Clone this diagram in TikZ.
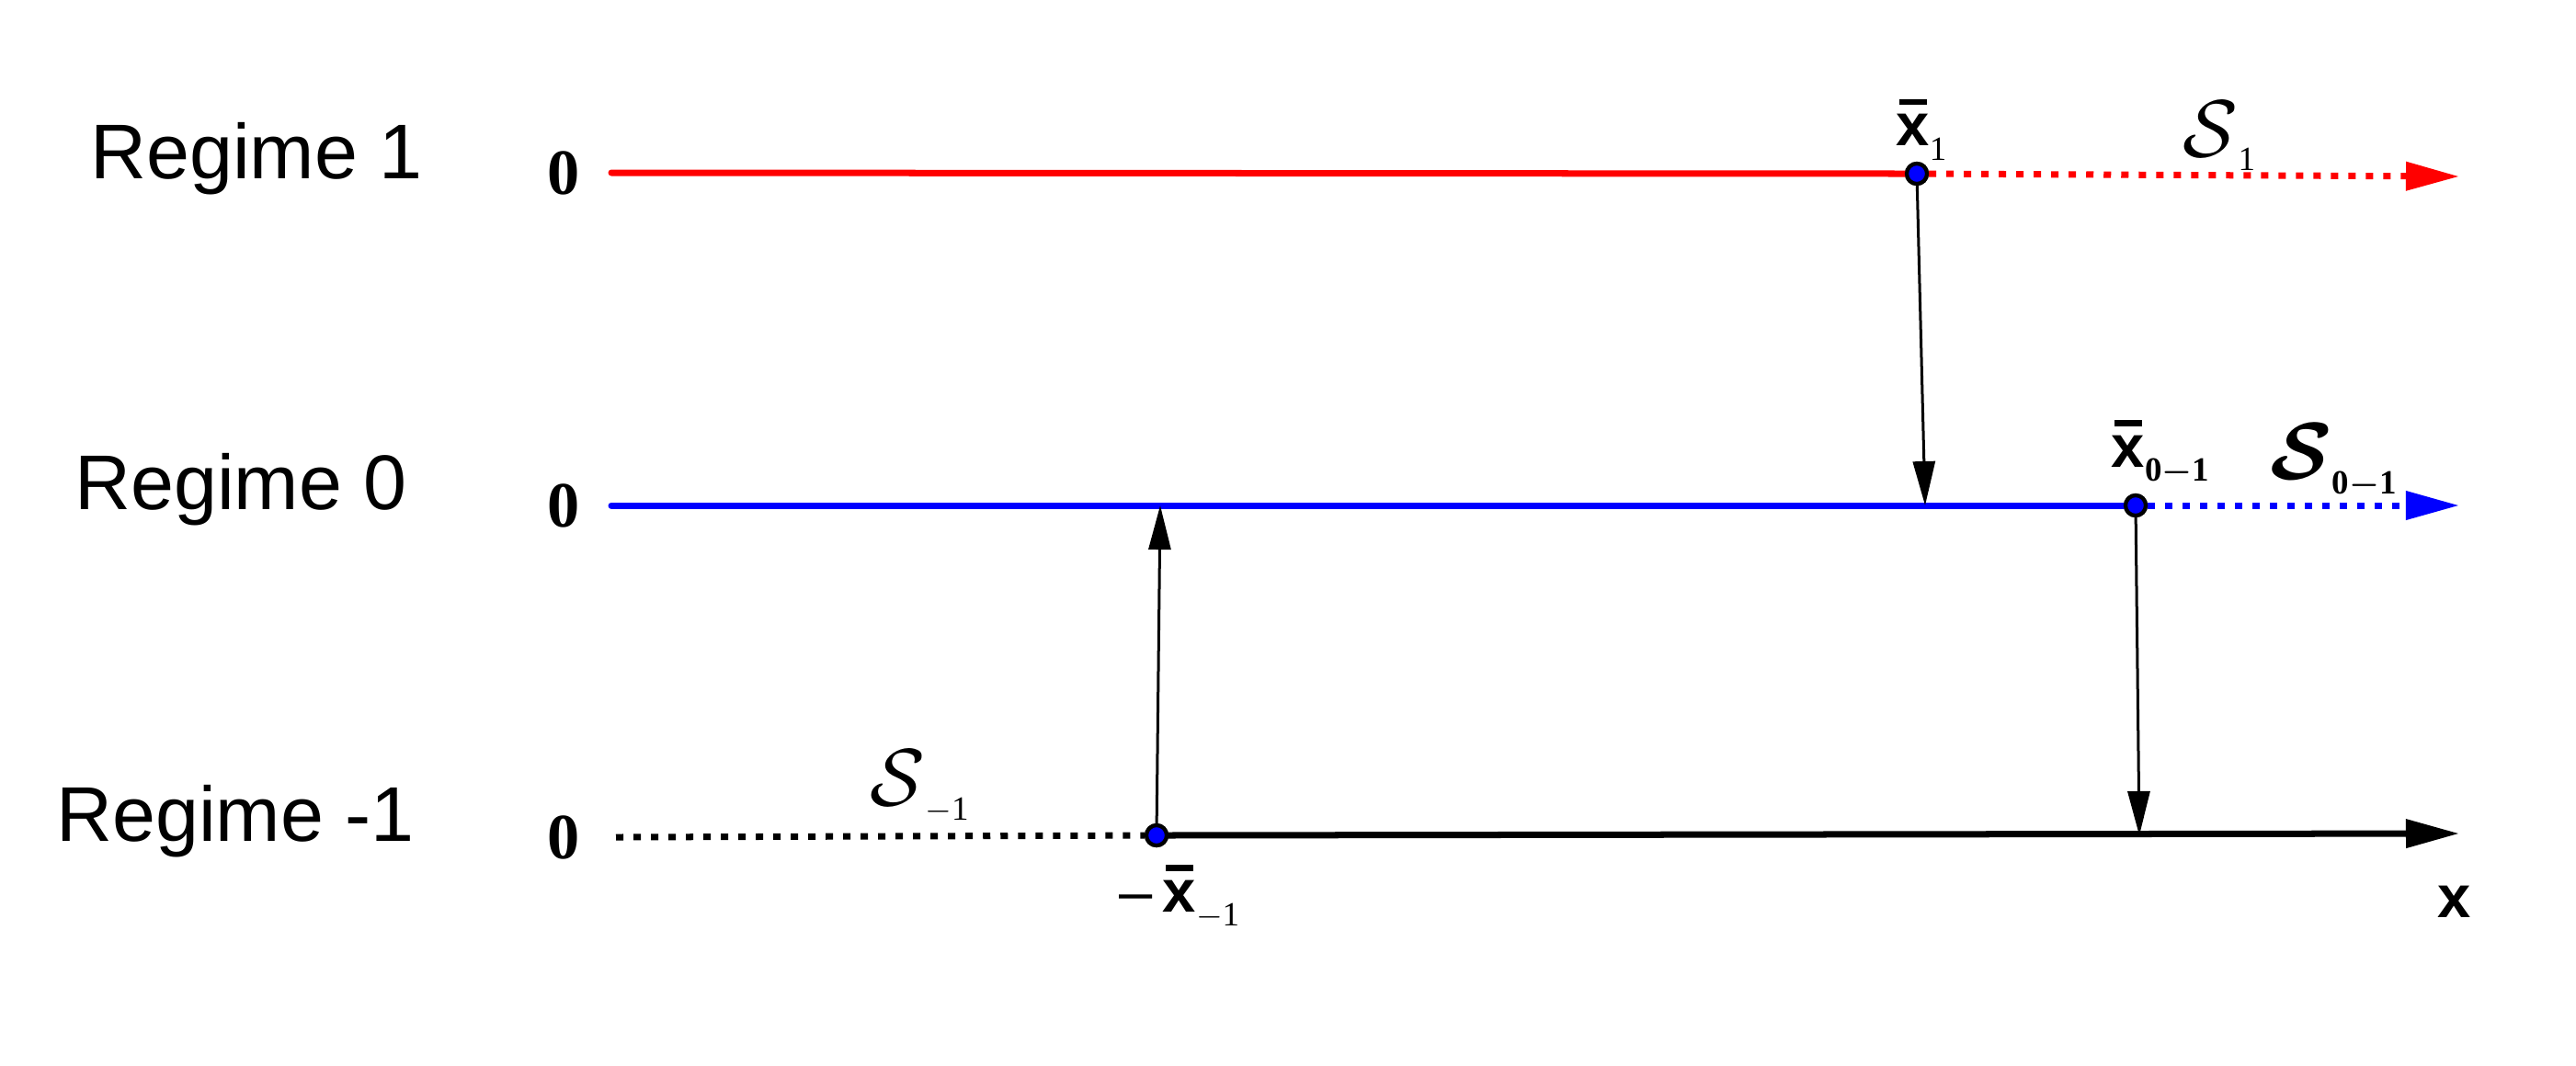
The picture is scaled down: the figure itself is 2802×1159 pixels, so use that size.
\documentclass[tikz,border=0pt]{standalone}
\usepackage{fix-cm}
\usepackage{amsmath,bm}
\usepackage{fontspec}
\setmainfont{Liberation Serif}
\newfontfamily\arialf{Liberation Sans}
\usetikzlibrary{arrows.meta}
\definecolor{rred}{RGB}{255,0,0}
\definecolor{bblue}{RGB}{0,0,255}
\newcommand{\xb}{{\arialf\bfseries\rlap{\hspace{0.05em}\rule[0.684em]{0.46em}{0.1em}}x}}
\newcommand{\subs}[1]{\raisebox{-4.5pt}{\fontsize{10.5}{12}\selectfont #1}}
\tikzset{
  regime/.style={font=\arialf\fontsize{24}{28}\selectfont, inner sep=0},
  zero/.style={font=\bfseries\fontsize{20}{24}\selectfont, inner sep=0},
  lbl/.style={font=\fontsize{18.5}{22}\selectfont, inner sep=0},
  slbl/.style={font=\fontsize{25}{28}\selectfont, inner sep=0},
  solidline/.style={line width=0.07cm},
  dotline/.style={line width=0.07cm, dash pattern=on 0.08cm off 0.11cm},
  bigtip/.style={-{Triangle[length=0.58cm,width=0.30cm]}},
  vtip/.style={line width=0.03cm, -{Triangle[length=0.48cm,width=0.24cm]}},
  pt/.style={circle, fill=bblue, draw=black, line width=1.2pt, minimum size=0.22cm, inner sep=0},
}
\begin{document}
\begin{tikzpicture}[x=0.01cm,y=-0.01cm]
\useasboundingbox (0,0) rectangle (2802,1159);
% labels
\node[regime] (reg1) at (279,173) {Regime 1};
\node[regime] (reg0) at (262,533) {Regime 0};
\node[regime] (regm) at (256,894) {Regime -1};
\node[zero] (z1) at (613,188) {0};
\node[zero] (z0) at (613,550) {0};
\node[zero] (zm) at (613,911) {0};
% coordinates
\coordinate (r0) at (665,188);
\coordinate (r1) at (2675,192);
\coordinate (b0) at (665,550);
\coordinate (b1) at (2675,550);
\coordinate (k0) at (670,911);
\coordinate (k1) at (2675,907);
\coordinate (bt) at (2094,550);
\coordinate (bu) at (1262,550);
\coordinate (kd) at (2327,909);
% points
\node[pt] (p1) at (2085,189) {};
\node[pt] (p0) at (2323,550) {};
\node[pt] (pm) at (1258,909) {};
% red
\draw[rred, solidline, line cap=round] (r0) -- (p1.center);
\draw[rred, dotline, bigtip] (p1) -- (r1);
% blue
\draw[bblue, solidline, line cap=round] (b0) -- (p0.center);
\draw[bblue, dotline, bigtip] (p0) -- (b1);
% black
\draw[black, dotline] (k0) -- (pm);
\draw[black, solidline, bigtip] (pm.center) -- (k1);
% vertical arrows
\draw[vtip] (p1) -- (bt);
\draw[vtip] (pm) -- (bu);
\draw[vtip] (p0) -- (kd);
\node[pt] at (p1) {};
\node[pt] at (p0) {};
\node[pt] at (pm) {};
% math labels
\node[lbl] (lx1) at (2090,141) {\xb\subs{1}};
\node[slbl] (ls1) at (2414,148) {$\mathcal{S}$\subs{1}};
\node[lbl] (lx0) at (2350,493) {\xb\subs{\bfseries 0$\bm{-}$1}};
\node[slbl] (ls0) at (2538,502) {$\bm{\mathcal{S}}$\subs{\bfseries 0$\bm{-}$1}};
\node[slbl] (lsm) at (1000,856) {$\mathcal{S}$\subs{$-$1}};
\node[lbl] (lxm) at (1283,976) {{\arialf –}\,\xb\subs{$-$1}};
\node[lbl] (lxx) at (2670,981) {\arialf\bfseries x};
\end{tikzpicture}
\end{document}
